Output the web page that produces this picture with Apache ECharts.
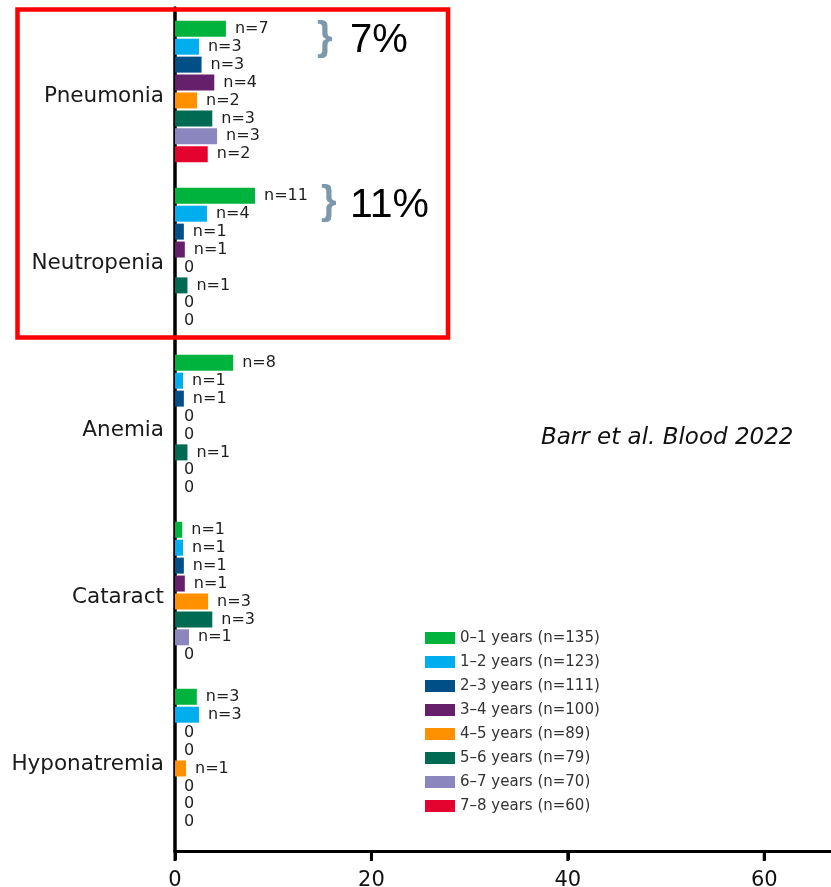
<!DOCTYPE html>
<html>
<head>
<meta charset="utf-8">
<title>Adverse events by age group</title>
<script src="https://cdn.jsdelivr.net/npm/echarts@6/dist/echarts.min.js"></script>
<style>
  html, body { margin: 0; padding: 0; background: #ffffff; }
  #chart { width: 831px; height: 887px; }
</style>
</head>
<body>
<div id="chart"></div>
<script>
// Adverse events, top to bottom
const categories = ['Pneumonia', 'Neutropenia', 'Anemia', 'Cataract', 'Hyponatremia'];

// Age groups and the number of children in each
const ageGroups = ['0–1 years', '1–2 years', '2–3 years', '3–4 years',
                   '4–5 years', '5–6 years', '6–7 years', '7–8 years'];
const groupSizes = [135, 123, 111, 100, 89, 79, 70, 60];

// Number of patients with each event, per age group (same order as categories)
const n_0_1 = [7, 11, 8, 1, 3];
const n_1_2 = [3, 4, 1, 1, 3];
const n_2_3 = [3, 1, 1, 1, 0];
const n_3_4 = [4, 1, 0, 1, 0];
const n_4_5 = [2, 0, 0, 3, 1];
const n_5_6 = [3, 1, 1, 3, 0];
const n_6_7 = [3, 0, 0, 1, 0];
const n_7_8 = [2, 0, 0, 0, 0];
const groupCounts = [n_0_1, n_1_2, n_2_3, n_3_4, n_4_5, n_5_6, n_6_7, n_7_8];

// Percentage axis tick values
const xTicks = [0, 20, 40, 60];
const xMax = 67;

const palette = ['#00b33c', '#00aeef', '#004f86', '#66206b',
                 '#ff9100', '#006a52', '#8c86bf', '#e4032e'];

const chart = echarts.init(document.getElementById('chart'), null, { renderer: 'canvas' });

const legendNames = ageGroups.map((name, i) => name + ' (n=' + groupSizes[i] + ')');

const barSeries = ageGroups.map((name, i) => ({
  name: legendNames[i],
  type: 'bar',
  xAxisIndex: 0,
  yAxisIndex: 0,
  barWidth: 16,
  barGap: '12%',
  itemStyle: { color: palette[i] },
  label: {
    show: true,
    position: 'right',
    distance: 9,
    fontFamily: 'DejaVu Sans',
    fontSize: 16,
    color: '#1e1e1e',
    formatter: p => (p.data.count === 0 ? '0' : 'n=' + p.data.count)
  },
  data: groupCounts[i].map(c => ({ value: c / groupSizes[i] * 100, count: c }))
}));

const gridLeft = 175, gridTop = 8, gridWidth = 658, axisY = 851, tickLen = 10;
const baseGrid = { left: gridLeft, width: gridWidth, containLabel: false, outerBoundsMode: 'none' };

chart.setOption({
  animation: false,
  backgroundColor: '#ffffff',
  grid: [
    // bar area: five category bands
    Object.assign({ top: gridTop, height: 835 }, baseGrid),
    // frame: value axis and the full-height vertical axis line
    Object.assign({ top: gridTop, height: axisY - gridTop }, baseGrid)
  ],
  xAxis: [
    {
      gridIndex: 0,
      type: 'value',
      min: xTicks[0],
      max: xMax,
      interval: xTicks[1] - xTicks[0],
      show: false
    },
    {
      gridIndex: 1,
      type: 'value',
      min: xTicks[0],
      max: xMax,
      interval: xTicks[1] - xTicks[0],
      axisLine: { show: true, onZero: false, lineStyle: { color: '#000', width: 3 } },
      axisTick: { show: true, inside: false, length: 9, lineStyle: { color: '#000', width: 3 } },
      axisLabel: {
        margin: 19,
        fontFamily: 'DejaVu Sans',
        fontSize: 21,
        color: '#111',
        showMaxLabel: false,
        formatter: v => (xTicks.indexOf(v) >= 0 ? String(v) : '')
      },
      splitLine: { show: false }
    }
  ],
  yAxis: [
    {
      gridIndex: 0,
      type: 'category',
      inverse: true,
      data: categories,
      axisLine: { show: false },
      axisTick: { show: false },
      axisLabel: {
        margin: 11,
        fontFamily: 'DejaVu Sans',
        fontSize: 21.5,
        color: '#1a1a1a',
        verticalAlign: 'top',
        lineHeight: 10
      }
    },
    {
      gridIndex: 1,
      type: 'value',
      min: 0,
      max: 1,
      axisLine: { show: true, onZero: false, lineStyle: { color: '#000', width: 3.5 } },
      axisTick: { show: false },
      axisLabel: { show: false },
      splitLine: { show: false }
    }
  ],
  legend: {
    data: legendNames,
    orient: 'vertical',
    left: 420,
    top: 625,
    itemWidth: 30,
    itemHeight: 12,
    itemGap: 8,
    icon: 'rect',
    selectedMode: false,
    textStyle: {
      fontFamily: 'DejaVu Sans',
      fontSize: 15,
      lineHeight: 16,
      color: '#333'
    }
  },
  series: barSeries,
  graphic: [
    // highlighted infection / cytopenia block
    {
      id: 'box',
      type: 'rect',
      shape: { x: 17.5, y: 9.5, width: 430.5, height: 328 },
      style: { fill: 'none', stroke: '#ff0000', lineWidth: 4.5 },
      z: 20
    },
    {
      id: 'brace1',
      type: 'text',
      left: 317, top: 19,
      style: { text: '}', font: 'bold 40px "Liberation Sans"', fill: '#7d98ab' },
      z: 20
    },
    {
      id: 'pct1',
      type: 'text',
      left: 350, top: 21,
      style: { text: '7%', font: '40px "Liberation Sans"', fill: '#000' },
      z: 20
    },
    {
      id: 'brace2',
      type: 'text',
      left: 321, top: 183,
      style: { text: '}', font: 'bold 40px "Liberation Sans"', fill: '#7d98ab' },
      z: 20
    },
    {
      id: 'pct2',
      type: 'text',
      left: 350, top: 185,
      style: { text: '11%', font: '41px "Liberation Sans"', fill: '#000' },
      z: 20
    },
    {
      id: 'source',
      type: 'text',
      left: 541, top: 427,
      style: { text: 'Barr et al. Blood 2022', font: 'italic 23px "DejaVu Sans"', fill: '#111' },
      z: 20
    }
  ]
});

// Value-axis tick marks below the axis line, positioned through the axis scale
const tickMarks = xTicks.map((v, i) => {
  const x = chart.convertToPixel({ xAxisIndex: 1 }, v);
  return {
    id: 'tick' + i,
    type: 'rect',
    shape: { x: x - 1.5, y: axisY, width: 3, height: tickLen },
    style: { fill: '#000' },
    zlevel: 1,
    z: 100
  };
});
chart.setOption({ graphic: tickMarks });
</script>
</body>
</html>
